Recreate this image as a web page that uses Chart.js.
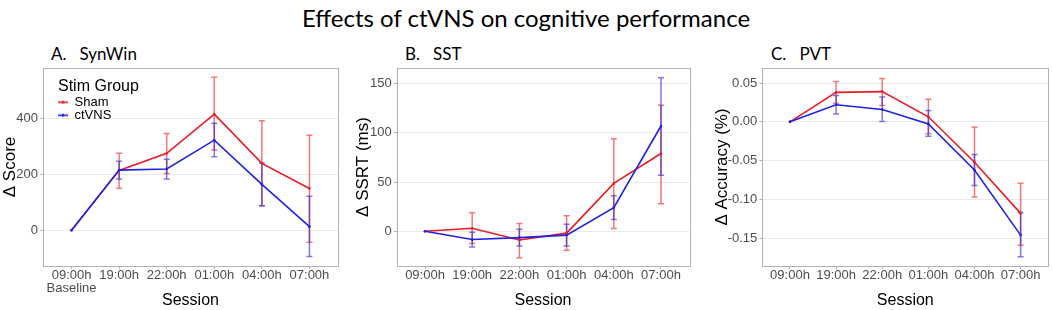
<!DOCTYPE html>
<html>
<head>
<meta charset="utf-8">
<script src="https://cdn.jsdelivr.net/npm/chart.js@4/dist/chart.umd.min.js"></script>
<style>
  html, body { margin: 0; padding: 0; background: #fff; }
  #wrap { position: relative; width: 1052px; height: 310px; overflow: hidden; background: #fff; }
  .cv { position: absolute; top: 40px; height: 270px; }
  .ttl { position: absolute; font-family: Lato, "Open Sans", sans-serif; color: #000; white-space: pre; line-height: 1; }
</style>
</head>
<body>
<div id="wrap">
  <div class="ttl" id="mainTitle" style="left:0;width:1052px;text-align:center;top:6px;font-size:24px;">Effects of ctVNS on cognitive performance</div>
  <div class="ttl" style="left:51px;top:45px;font-size:17px;">A.   SynWin</div>
  <div class="ttl" style="left:405px;top:45px;font-size:17px;">B.   SST</div>
  <div class="ttl" style="left:771px;top:45px;font-size:17px;">C.   PVT</div>
  <div class="cv" style="left:0;width:345px;"><canvas id="cA" width="345" height="270"></canvas></div>
  <div class="cv" style="left:353px;width:345px;"><canvas id="cB" width="345" height="270"></canvas></div>
  <div class="cv" style="left:712px;width:340px;"><canvas id="cC" width="340" height="270"></canvas></div>
</div>
<script>
// ---- data ----
const sessions = ['09:00h', '19:00h', '22:00h', '01:00h', '04:00h', '07:00h'];
const baselineNote = 'Baseline';
const groupNames = ['Sham', 'ctVNS'];
const legendTitle = 'Stim Group';

// A. SynWin (Δ Score)
const shamSynWin      = [0, 214, 275, 415, 239, 149];
const shamSynWinLow   = [0, 150, 203, 287, 88, -43];
const shamSynWinHigh  = [0, 275, 346, 547, 391, 339];
const ctvnsSynWin     = [0, 215, 219, 322, 164, 13];
const ctvnsSynWinLow  = [0, 183, 183, 263, 88, -94];
const ctvnsSynWinHigh = [0, 247, 254, 382, 240, 122];
const synWinTicks = [0, 200, 400];

// B. SST (Δ SSRT, ms)
const shamSST      = [0, 3, -9, -2, 48.6, 79];
const shamSSTLow   = [0, -12.6, -27, -19.4, 2.7, 28];
const shamSSTHigh  = [0, 18.7, 7.8, 15.6, 94, 128];
const ctvnsSST     = [0, -8.5, -6.5, -4, 24, 107];
const ctvnsSSTLow  = [0, -16, -15, -15, 12, 57];
const ctvnsSSTHigh = [0, -1, 2, 7, 36, 156];
const sstTicks = [0, 50, 100, 150];

// C. PVT (Δ Accuracy, %)
const shamPVT      = [0, 0.038, 0.039, 0.0065, -0.052, -0.118];
const shamPVTLow   = [0, 0.024, 0.021, -0.0155, -0.097, -0.159];
const shamPVTHigh  = [0, 0.052, 0.056, 0.029, -0.007, -0.079];
const ctvnsPVT     = [0, 0.022, 0.016, -0.0026, -0.062, -0.146];
const ctvnsPVTLow  = [0, 0.010, 0.0004, -0.0186, -0.082, -0.174];
const ctvnsPVTHigh = [0, 0.034, 0.032, 0.0146, -0.042, -0.117];
const pvtTicks = [-0.15, -0.10, -0.05, 0.00, 0.05];

// ---- styling ----
const RED = 'rgb(236,28,36)';
const BLUE = 'rgb(32,32,230)';
const RED_A = 'rgba(236,28,36,0.6)';
const BLUE_A = 'rgba(32,32,230,0.6)';
const TICK_FONT = { family: '"Liberation Sans", Arial, sans-serif', size: 13, lineHeight: 1 };
const AXIS_TITLE_FONT = { family: '"Liberation Sans", Arial, sans-serif', size: 16, lineHeight: 1.2 };

function pts(arr) { return arr.map((v, i) => ({ x: i, y: v })); }

const errorBars = {
  id: 'errorBars',
  beforeDatasetsDraw(chart) {
    const ctx = chart.ctx;
    const xs = chart.scales.x, ys = chart.scales.y;
    [0, 1].forEach(di => {
      const ds = chart.data.datasets[di];
      if (!ds.errLow) return;
      ctx.save();
      ctx.strokeStyle = ds.errColor;
      ctx.lineWidth = 1.5;
      ds.errLow.forEach((lo, j) => {
        const hi = ds.errHigh[j];
        if (lo === hi) return;
        const x = xs.getPixelForValue(j);
        const y1 = ys.getPixelForValue(lo), y2 = ys.getPixelForValue(hi);
        ctx.beginPath();
        ctx.moveTo(x, y1); ctx.lineTo(x, y2);
        ctx.moveTo(x - 3, y1); ctx.lineTo(x + 3, y1);
        ctx.moveTo(x - 3, y2); ctx.lineTo(x + 3, y2);
        ctx.stroke();
      });
      ctx.restore();
    });
  }
};

const panelBorder = {
  id: 'panelBorder',
  afterDraw(chart) {
    const a = chart.chartArea, ctx = chart.ctx;
    ctx.save();
    ctx.strokeStyle = '#b3b3b3';
    ctx.lineWidth = 1;
    ctx.strokeRect(Math.round(a.left) + 0.5, Math.round(a.top) + 0.5, Math.round(a.right - a.left), Math.round(a.bottom - a.top));
    ctx.restore();
  }
};

function legendSwatch(color) {
  const c = document.createElement('canvas');
  c.width = 10; c.height = 5;
  const g = c.getContext('2d');
  g.strokeStyle = color; g.lineWidth = 1.6;
  g.beginPath(); g.moveTo(0, 2.5); g.lineTo(10, 2.5); g.stroke();
  g.fillStyle = color;
  g.beginPath(); g.arc(5, 2.5, 1.4, 0, Math.PI * 2); g.fill();
  return c;
}

function makeChart(id, cfg) {
  const datasets = [
    { label: groupNames[0], data: pts(cfg.sham), borderColor: RED, backgroundColor: RED,
      errLow: cfg.shamLow, errHigh: cfg.shamHigh, errColor: RED_A, order: 2 },
    { label: groupNames[1], data: pts(cfg.ctvns), borderColor: BLUE, backgroundColor: BLUE,
      errLow: cfg.ctvnsLow, errHigh: cfg.ctvnsHigh, errColor: BLUE_A, order: 1 }
  ].map(d => Object.assign(d, { borderWidth: 1.6, pointRadius: 1.3, pointBorderWidth: 0, pointHoverRadius: 1.3, tension: 0, fill: false }));

  const plugins = [errorBars, panelBorder];
  if (cfg.legend) {
    plugins.push({
      id: 'legendShift',
      afterLayout(chart) {
        const lg = chart.legend, a = chart.chartArea;
        const dx = a.left + 15 - lg.left, dy = a.top + 10.7 - lg.top;
        lg.left += dx; lg.right += dx; lg.top += dy; lg.bottom += dy;
      }
    });
  }

  return new Chart(document.getElementById(id), {
    type: 'line',
    data: { datasets },
    options: {
      responsive: false,
      animation: false,
      events: [],
      layout: { padding: { top: 28, left: 0, right: cfg.padRight, bottom: 0 } },
      plugins: {
        title: { display: false },
        tooltip: { enabled: false },
        legend: cfg.legend ? {
          display: true,
          position: 'chartArea',
          align: 'start',
          title: { display: true, text: legendTitle, position: 'start', color: '#000',
                   font: { family: '"Liberation Sans", Arial, sans-serif', size: 16, lineHeight: 1 },
                   padding: { top: 0, bottom: 1 } },
          labels: {
            color: '#000',
            font: { family: '"Liberation Sans", Arial, sans-serif', size: 13 },
            padding: 0,
            boxWidth: 10,
            boxHeight: 5,
            usePointStyle: true,
            generateLabels(chart) {
              return chart.data.datasets.map((ds, i) => ({
                text: ds.label, datasetIndex: i, pointStyle: legendSwatch(ds.borderColor),
                fillStyle: ds.borderColor, strokeStyle: ds.borderColor, lineWidth: 0, fontColor: '#000'
              }));
            }
          }
        } : { display: false }
      },
      scales: {
        x: {
          type: 'linear',
          min: -0.6, max: 5.6,
          afterBuildTicks(s) { s.ticks = sessions.map((_, i) => ({ value: i })); },
          afterFit(s) { s.height = 44; },
          ticks: {
            autoSkip: false, maxRotation: 0, padding: 0, color: '#4d4d4d', font: TICK_FONT,
            callback(v) { return cfg.xLabels[v]; }
          },
          grid: { display: true, drawOnChartArea: false, drawTicks: true, tickLength: 3, tickColor: '#b3b3b3' },
          border: { display: false },
          title: { display: true, text: 'Session', color: '#000', font: Object.assign({}, AXIS_TITLE_FONT, { lineHeight: 1 }), padding: { top: 0, bottom: 1 } }
        },
        y: {
          type: 'linear',
          min: cfg.yMin, max: cfg.yMax,
          afterBuildTicks(s) { s.ticks = cfg.yTicks.map(v => ({ value: v })); },
          afterFit(s) { s.width = cfg.yWidth; },
          ticks: { padding: 2, color: '#4d4d4d', font: TICK_FONT, callback: cfg.yFmt },
          grid: { color: '#ebebeb', lineWidth: 1, drawTicks: true, tickLength: 3, tickColor: '#b3b3b3' },
          border: { display: false },
          title: { display: true, text: cfg.yTitle, color: '#000', font: Object.assign({}, AXIS_TITLE_FONT, { size: 17 }), padding: { top: 0, bottom: 0 } }
        }
      }
    },
    plugins
  });
}

makeChart('cA', {
  sham: shamSynWin, shamLow: shamSynWinLow, shamHigh: shamSynWinHigh,
  ctvns: ctvnsSynWin, ctvnsLow: ctvnsSynWinLow, ctvnsHigh: ctvnsSynWinHigh,
  yMin: -127.5, yMax: 579.6, yTicks: synWinTicks, yFmt: v => String(v),
  yTitle: 'Δ Score', yWidth: 43, padRight: 7, legend: true,
  xLabels: sessions.map((s, i) => i === 0 ? [s, baselineNote] : s)
});
makeChart('cB', {
  sham: shamSST, shamLow: shamSSTLow, shamHigh: shamSSTHigh,
  ctvns: ctvnsSST, ctvnsLow: ctvnsSSTLow, ctvnsHigh: ctvnsSSTHigh,
  yMin: -35.4, yMax: 166, yTicks: sstTicks, yFmt: v => String(v),
  yTitle: 'Δ SSRT (ms)', yWidth: 43.7, padRight: 8.7, legend: false,
  xLabels: sessions
});
makeChart('cC', {
  sham: shamPVT, shamLow: shamPVTLow, shamHigh: shamPVTHigh,
  ctvns: ctvnsPVT, ctvnsLow: ctvnsPVTLow, ctvnsHigh: ctvnsPVTHigh,
  yMin: -0.1858, yMax: 0.0694, yTicks: pvtTicks, yFmt: v => v.toFixed(2),
  yTitle: 'Δ Accuracy (%)', yWidth: 50.3, padRight: 3.7, legend: false,
  xLabels: sessions
});
</script>
</body>
</html>
